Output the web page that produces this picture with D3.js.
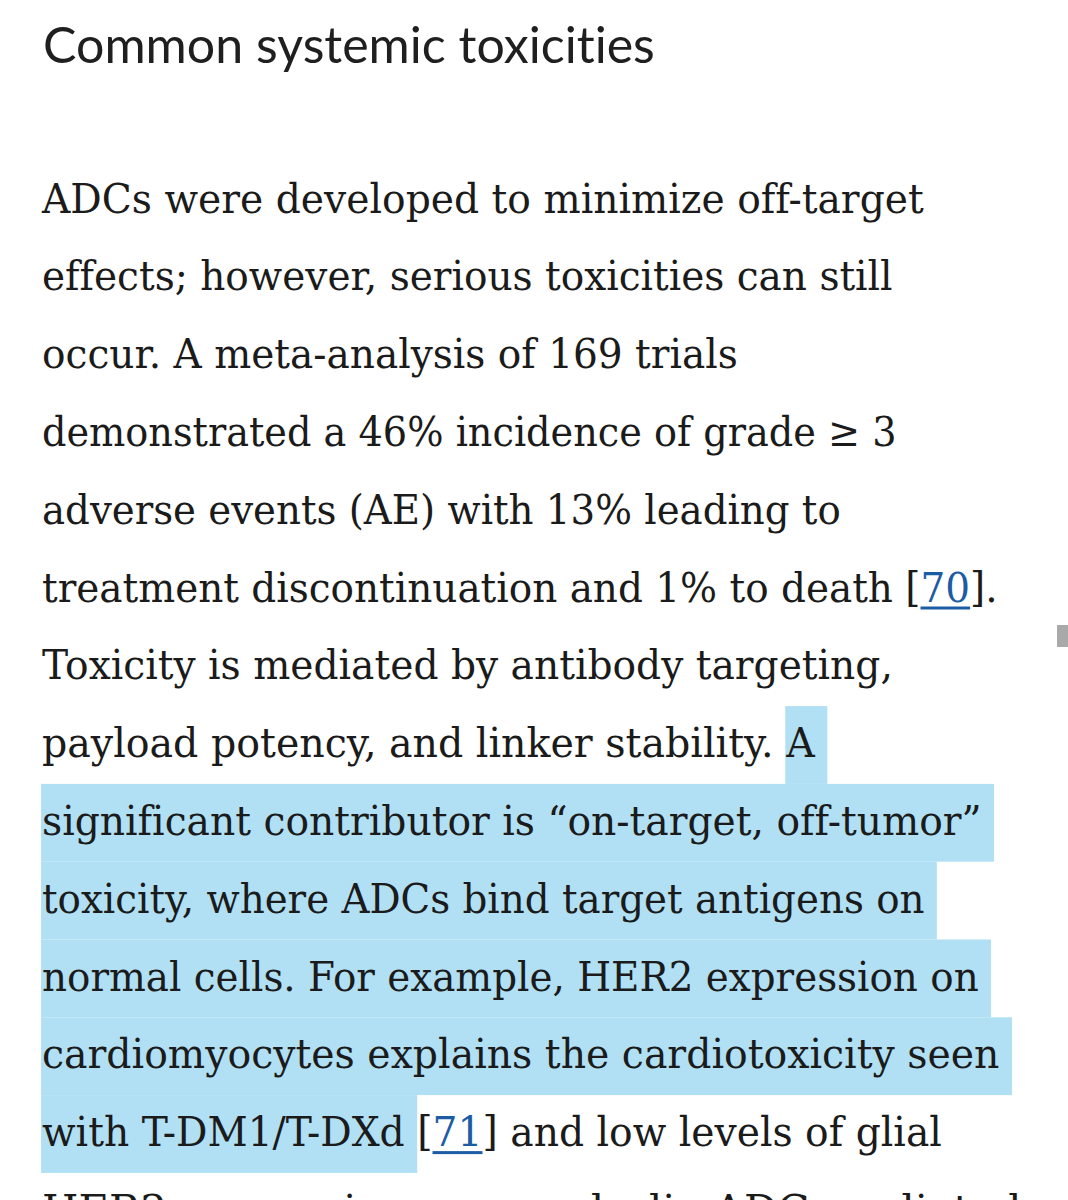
<!DOCTYPE html>
<html>
<head>
<meta charset="utf-8">
<script src="https://cdn.jsdelivr.net/npm/d3@7"></script>
<style>
  html, body { margin: 0; background: #fff; }
  svg { display: block; }
</style>
</head>
<body>
<svg id="page" width="1068" height="1200"></svg>
<script>
// Texte de la page (une entrée par ligne affichée)
const heading = "Common systemic toxicities";

// k: "" = texte normal, "link" = référence bleue soulignée, "hl" = surligné
const lines = [
  [{ t: "ADCs were developed to minimize off-target", k: "" }],
  [{ t: "effects; however, serious toxicities can still", k: "" }],
  [{ t: "occur. A meta-analysis of 169 trials", k: "" }],
  [{ t: "demonstrated a 46% incidence of grade \u2265 3", k: "" }],
  [{ t: "adverse events (AE) with 13% leading to", k: "" }],
  [
    { t: "treatment discontinuation and 1% to death [", k: "" },
    { t: "70", k: "link" },
    { t: "].", k: "" },
  ],
  [{ t: "Toxicity is mediated by antibody targeting,", k: "" }],
  [
    { t: "payload potency, and linker stability. ", k: "" },
    { t: "A", k: "hl" },
  ],
  [{ t: "significant contributor is \u201Con-target, off-tumor\u201D", k: "hl" }],
  [{ t: "toxicity, where ADCs bind target antigens on", k: "hl" }],
  [{ t: "normal cells. For example, HER2 expression on", k: "hl" }],
  [{ t: "cardiomyocytes explains the cardiotoxicity seen", k: "hl" }],
  [
    { t: "with T-DM1/T-DXd ", k: "hl" },
    { t: "[", k: "" },
    { t: "71", k: "link" },
    { t: "] and low levels of glial", k: "" },
  ],
  [{ t: "HER2 expression may underlie ADC-mediated", k: "" }],
];

// Mise en page : bord droit de chaque ligne
const lineEnds = [924, 893, 738, 897, 841, 998, 893, 815, 982, 925, 979, 1000, 942, 1022];

const LEFT = 42;
const TEXT_COLOR = "#1b1b1b";
const LINK_COLOR = "#1c5ca4";
const HL_COLOR = "#b1e0f5";
const FONT_SIZE = 41;
const LINE_H = 77.8;

const svg = d3.select("#page");

// baseline par index de ligne
const y = d3.scaleLinear().domain([0, 1]).range([212.5, 212.5 + LINE_H]);

// Titre (sans-serif), ajusté à la largeur lue
const head = svg
  .append("text")
  .attr("x", 0)
  .attr("y", 0)
  .style("font-family", "Lato, 'Open Sans', sans-serif")
  .style("font-size", "50px")
  .style("font-variant-ligatures", "none")
  .style("fill", "#1f1f1f")
  .text(heading);
const headW = head.node().getComputedTextLength();
head.attr("transform", `translate(${LEFT + 1},63) scale(${(655 - LEFT - 1) / headW},1)`);

// mesure d'une espace (fin de ligne surlignée)
const probe = svg
  .append("text")
  .style("font-family", "'DejaVu Serif', serif")
  .style("font-size", FONT_SIZE + "px")
  .style("white-space", "pre")
  .text("a a");
const probe2 = svg
  .append("text")
  .style("font-family", "'DejaVu Serif', serif")
  .style("font-size", FONT_SIZE + "px")
  .text("aa");
const spaceW = probe.node().getComputedTextLength() - probe2.node().getComputedTextLength();
probe.remove();
probe2.remove();

lines.forEach((segs, i) => {
  const g = svg.append("g");
  const hlLayer = g.append("g");

  const text = g
    .append("text")
    .attr("x", 0)
    .attr("y", 0)
    .style("font-family", "'DejaVu Serif', serif")
    .style("font-size", FONT_SIZE + "px")
    .style("font-variant-ligatures", "none")
    .style("white-space", "pre")
    .style("fill", TEXT_COLOR);

  text
    .selectAll("tspan")
    .data(segs)
    .enter()
    .append("tspan")
    .style("fill", (d) => (d.k === "link" ? LINK_COLOR : TEXT_COLOR))
    .text((d) => d.t);

  const node = text.node();
  const natural = node.getComputedTextLength();
  const sx = (lineEnds[i] - LEFT) / natural;
  g.attr("transform", `translate(${LEFT},${y(i)}) scale(${sx},1)`);

  // positions de chaque segment
  let idx = 0;
  segs.forEach((s, j) => {
    const x0 = idx === 0 ? 0 : node.getSubStringLength(0, idx);
    const w = node.getSubStringLength(idx, s.t.length);
    idx += s.t.length;

    if (s.k === "hl") {
      const extra = j === segs.length - 1 ? spaceW : 0;
      hlLayer
        .append("rect")
        .attr("x", x0 - 1)
        .attr("y", -51)
        .attr("width", w + extra + 1)
        .attr("height", LINE_H)
        .attr("fill", HL_COLOR);
    }
    if (s.k === "link") {
      g.append("rect")
        .attr("x", x0)
        .attr("y", 5)
        .attr("width", w)
        .attr("height", 3)
        .attr("fill", LINK_COLOR);
    }
  });
});

// petit repère gris à droite (barre de défilement)
svg
  .append("rect")
  .attr("x", 1057)
  .attr("y", 625)
  .attr("width", 11)
  .attr("height", 22)
  .attr("fill", "#a9a9a9");
</script>
</body>
</html>
